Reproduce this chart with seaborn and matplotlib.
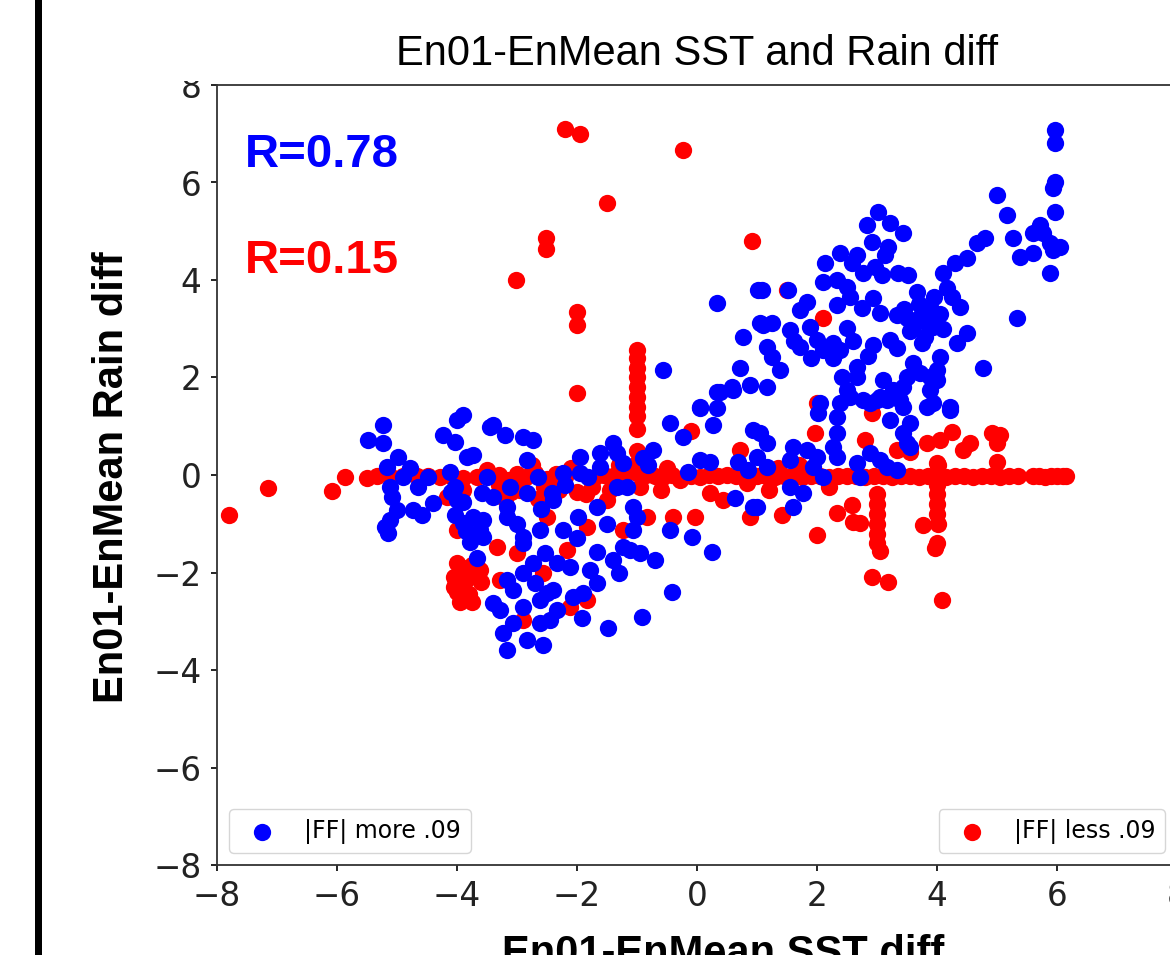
import matplotlib
matplotlib.use("Agg")
import matplotlib.pyplot as plt
import seaborn as sns
import pandas as pd
from matplotlib.patches import Rectangle

# ---------------- data ----------------
title = "En01-EnMean SST and Rain diff"
xlabel = "En01-EnMean SST diff"
ylabel = "En01-EnMean Rain diff"
label_more = "|FF| more .09"
label_less = "|FF| less .09"
r_more = "R=0.78"
r_less = "R=0.15"
ticks = [-8, -6, -4, -2, 0, 2, 4, 6, 8]

blue_x = [
    -5.48, -5.23, -5.23, -4.98, -5.17, -4.78, -4.48, -5.12, -4.65, -5.08, -4.4, -5.0, -4.73, -4.58,
    -5.12, -5.2, -5.15, -4.9, -4.23, -4.03, -4.0, -3.9, -3.83, -3.73, -4.12, -4.03, -4.0, -4.03,
    -3.9, -3.73, -3.78, -3.67, -3.62, -3.45, -3.58, -3.9, -3.85, -4.1,
    -3.4, -3.2, -2.9, -2.73, -2.83, -3.5, -3.12, -3.4, -3.17, -3.17, -3.57, -3.57, -2.83, -2.65,
    -2.42, -2.4, -2.23, -1.95, -1.95, -1.82, -1.62, -1.62, -1.4, -1.33, -1.23, -1.33, -1.17, -1.07,
    -1.0, -1.07, -1.67, -1.98, -2.23, -2.0, -2.62, -2.9, -2.9, -1.67, -1.4, -1.23, -1.12, -0.95,
    -0.7, -2.73, -2.53, -2.33, -2.12, -1.78, -3.17, -3.07, -2.7, -2.5, -2.4, -1.67, -1.9, -2.07,
    -2.62, -3.4, -3.28, -2.9, -2.33, -2.45, -2.62, -3.07, -3.23, -3.17, -2.83, -2.57, -1.92, -1.48,
    -0.92, -0.42, -0.45, -0.08, 0.25, -0.45, -0.23, 0.05, 0.33, 0.27, 0.05, 0.22, -0.15, -0.82,
    -0.9, -0.73, 0.63, 0.68, 0.85, 0.93, 0.93, 0.38, 0.6, -2.6, -2.2, -3.0, -1.5, -1.3, -2.9,
    0.33, -0.57, 0.77, 0.72, 1.02, 1.05, 0.33, 0.58, 0.88, 0.05,
    5.97, 5.97, 5.97, 5.93, 5.97, 5.0, 5.17, 5.27, 5.88, 5.33, 5.72, 5.6, 5.77, 5.88, 6.05, 5.38,
    5.6, 5.93, 4.8, 4.67, 4.5, 4.3, 4.1, 4.17, 4.25, 4.38, 4.5, 4.33, 4.77, 4.05, 4.0, 4.22, 3.88,
    3.02, 2.83, 3.22, 3.43, 2.92, 3.18, 3.13, 2.67, 2.38, 2.13, 2.58, 2.97, 2.77, 3.08, 3.35, 3.52,
    2.1, 2.33, 2.5, 3.67, 2.93, 2.55, 2.33, 2.75, 3.05, 3.33, 3.5, 3.72, 3.88, 3.93, 3.6, 3.8, 2.5,
    2.93, 3.22, 3.33, 3.6, 3.72, 4.0, 3.5, 3.43, 3.88, 3.93, 2.67, 2.38, 2.27, 2.42, 2.67, 2.5, 3.1,
    3.27, 3.05, 2.88, 3.38,
    3.7, 3.8, 3.65, 3.55, 3.75, 3.45, 4.05, 3.95, 4.1, 3.85, 2.85, 2.6, 1.62, 1.9,
    1.83, 1.72, 1.55, 1.88, 2.0, 1.72, 2.1, 2.27, 1.25, 1.1, 1.17, 1.25, 1.38, 1.08, 1.52, 1.17, 2.05,
    2.02, 2.38, 2.55, 2.77, 3.0, 3.17, 3.43, 3.83, 4.22, 3.22, 3.55, 3.43, 3.5, 3.55, 2.33, 2.33,
    2.27, 2.33, 1.05, 1.17, 1.0, 1.17, 1.6, 1.83, 2.0, 1.55, 1.93, 2.1, 1.55, 1.77, 1.6, 1.0, 2.67,
    2.72, 2.88, 3.05, 3.17, 3.33,
]
blue_y = [
    0.72, 1.03, 0.66, 0.37, 0.16, 0.14, -0.04, -0.25, -0.25, -0.45, -0.57, -0.72, -0.72, -0.82,
    -0.92, -1.07, -1.19, -0.05, 0.82, 0.68, 1.13, 1.23, 0.37, 0.41, 0.06, -0.25, -0.51, -0.82,
    -0.98, -0.86, -1.37, -1.7, -1.13, 0.98, -0.37, -0.55, -1.15, -0.35,
    1.03, 0.82, 0.78, 0.72, 0.31, -0.04, -0.25, -0.45, -0.66, -0.86, -0.92, -1.27, -0.37, -0.04,
    -0.37, -0.51, 0.04, 0.37, 0.04, -0.04, 0.45, 0.16, 0.66, 0.45, 0.25, -0.25, -0.25, -0.66,
    -0.86, -1.13, -0.66, -0.86, -1.13, -1.29, -1.13, -1.27, -1.4, -1.58, -1.74, -1.48, -1.54, -1.6,
    -1.74, -1.8, -1.6, -1.8, -1.88, -1.95, -2.15, -2.36, -2.22, -2.42, -2.36, -2.22, -2.42, -2.5,
    -2.56, -2.63, -2.77, -2.7, -2.77, -2.97, -3.04, -3.04, -3.24, -3.59, -3.38, -3.49, -2.93, -3.14,
    -2.91, -2.4, -1.13, -1.27, -1.58, 1.07, 0.78, 1.37, 1.37, 1.03, 0.31, 0.27, 0.06, 0.2,
    0.35, 0.51, -0.47, 0.27, 0.1, -0.66, 0.92, 1.7, 1.74, -0.7, -0.2, -1.0, -1.0, -2.0, -2.0,
    3.52, 2.15, 2.83, 2.19, 3.8, 3.12, 1.7, 1.8, 1.85, 1.4,
    7.07, 6.8, 6.0, 5.88, 5.4, 5.74, 5.33, 4.86, 4.14, 3.22, 5.13, 4.96, 4.96, 4.76, 4.68, 4.47,
    4.55, 4.62, 4.86, 4.76, 4.45, 4.35, 4.14, 3.84, 3.65, 3.45, 2.91, 2.71, 2.19, 2.42, 1.95, 1.4, 2.01,
    5.4, 5.13, 5.17, 4.96, 4.78, 4.68, 4.51, 4.51, 4.55, 4.35, 4.35, 4.27, 4.14, 4.1, 4.14, 4.1,
    3.96, 4.0, 3.86, 3.76, 3.63, 3.65, 3.49, 3.42, 3.32, 3.28, 3.22, 3.24, 3.45, 3.04, 3.04, 2.83, 3.02,
    2.67, 2.77, 2.6, 2.3, 2.09, 2.15, 2.01, 1.8, 1.74, 1.48, 2.22, 2.56, 2.4, 2.01, 2.01, 1.74, 1.95,
    1.74, 1.6, 1.48, 1.54,
    3.5, 3.3, 3.15, 2.95, 2.7, 3.4, 3.3, 3.65, 3.0, 3.1, 2.45, 2.75, 2.75, 2.4,
    3.55, 3.38, 2.97, 3.04, 2.77, 2.63, 2.56, 2.71, 3.12, 3.08, 2.63, 2.42, 2.15, 3.8, 3.8, 1.8, 1.48,
    1.27, 1.48, 1.6, 1.54, 1.54, 1.54, 1.4, 1.4, 1.33, 1.13, 1.07, 0.86, 0.66, 0.57, 1.19, 0.86,
    0.57, 0.37, 0.86, 0.66, 0.37, 0.16, 0.57, 0.51, 0.37, 0.31, 0.16, -0.04, -0.25, -0.37, -0.66, -0.66, 0.25,
    -0.04, 0.45, 0.31, 0.16, 0.1,
]

red_x = [
    -7.8, -7.15, -6.08, -5.87, -5.5, -5.33, -5.12, -4.9, -4.67, -4.48, -4.28, -4.1, -3.9, -3.67, -3.5,
    -4.0, -4.0, -3.9, -3.75, -4.05, -3.85, -3.7, -4.0, -3.8, -3.95, -3.75, -4.05, -3.6, -4.17, -3.9,
    -3.62, -3.33, -3.0, -3.28, -2.57, -2.12, -1.83, -2.9,
    -3.3, -3.15, -3.0, -2.85, -2.7, -2.5, -2.35, -2.2, -2.0, -1.85, -1.7, -1.55, -1.4, -1.2, -0.85,
    -0.7, -0.57, -0.42, -0.28, -0.1, 0.05, 0.2, 0.35, 0.5, 0.65, 0.8,
    -3.1, -2.95, -2.55, -2.3, -1.75, -1.45, -0.95, -0.6, -1.3, -2.1, -2.75, -3.3, -0.5,
    -2.5, -2.17, -1.83, -1.5, -1.23, -0.83, -0.4, -0.03, 0.22, 0.43, 0.72, 0.83, 0.88, -2.65, -3.2, -0.1,
    -1.0, -1.0, -1.0, -1.0, -1.0, -1.0, -1.0, -1.0, -1.0, -1.0, -1.0, -1.0,
    -2.2, -1.95, -0.23, -1.5, -2.52, -2.52, -3.02, -2.0, -2.0, -2.0, 0.92, 2.1, 1.5, 2.0,
    1.0, 1.15, 1.3, 1.45, 1.6, 1.75, 1.9, 2.05, 2.2, 2.35, 2.5, 2.65, 2.8, 2.95, 3.1, 3.25, 3.4,
    3.55, 3.7, 3.85, 4.0, 4.15, 4.3, 4.45, 4.6, 4.75, 4.9, 5.05, 5.2, 5.35, 5.6, 5.7, 5.8, 5.9,
    6.0, 6.1, 6.15,
    3.0, 3.0, 3.0, 3.0, 3.0, 3.0, 3.05, 2.92, 3.18, 4.0, 4.0, 4.0, 4.0, 4.0, 4.02, 4.0, 3.97, 4.08,
    3.77, 2.58, 2.33, 2.6, 2.72, 2.0, 1.42,
    2.92, 1.97, 2.8, 3.33, 3.55, 3.83, 4.05, 4.25, 4.43, 4.55, 4.92, 5.05, 5.0, 5.0, 4.02,
    1.2, 1.7, 2.2, 1.35,
]
red_y = [
    -0.82, -0.27, -0.33, -0.04, -0.06, -0.02, -0.03, -0.02, -0.03, -0.02, -0.04, -0.02, -0.06, -0.04, 0.1,
    -1.13, -1.8, -1.9, -1.85, -2.1, -2.15, -2.05, -2.4, -2.45, -2.6, -2.6, -2.3, -2.2, -0.45, -0.3,
    -1.95, -1.48, -1.6, -2.15, -2.0, -2.7, -2.56, -2.97,
    0.0, -0.1, 0.02, -0.05, 0.05, -0.08, 0.03, -0.05, -0.35, -0.4, -0.05, 0.0, -0.02, 0.02, 0.0,
    -0.03, -0.04, 0.0, -0.1, -0.02, -0.05, 0.0, -0.03, 0.0, -0.02, -0.03,
    -0.35, -0.3, -0.25, -0.3, -0.25, -0.3, -0.25, -0.3, 0.2, 0.15, 0.2, -0.2, 0.15,
    -0.86, -1.54, -1.07, -0.51, -1.13, -0.86, -0.86, -0.86, -0.37, -0.51, 0.51, -0.16, -0.86, -0.5, -0.5, 0.9,
    2.56, 2.4, 2.2, 2.0, 1.8, 1.6, 1.4, 1.2, 0.95, 0.5, 0.25, 0.05,
    7.1, 7.0, 6.67, 5.58, 4.86, 4.63, 4.0, 3.34, 3.08, 1.68, 4.8, 3.22, 3.8, 1.48,
    -0.03, -0.02, -0.04, -0.03, -0.02, -0.04, -0.03, -0.02, -0.04, -0.03, -0.02, -0.03, -0.04, -0.02,
    -0.03, -0.04, -0.02, -0.03, -0.04, -0.02, -0.03, -0.04, -0.02, -0.03, -0.04, -0.02, -0.03, -0.04,
    -0.02, -0.03, -0.03, -0.02, -0.04, -0.03, -0.02, -0.03, -0.03,
    -0.4, -0.6, -0.8, -1.0, -1.2, -1.4, -1.55, -2.1, -2.2, 0.25, -0.2, -0.4, -0.6, -0.8, -1.0, -1.4,
    -1.5, -2.56, -1.03, -0.62, -0.78, -0.96, -0.98, -1.23, -0.82,
    1.27, 0.86, 0.72, 0.51, 0.47, 0.66, 0.72, 0.89, 0.51, 0.66, 0.86, 0.82, 0.66, 0.27, 0.2,
    -0.3, 0.2, -0.25, 0.15,
]

blue_df = pd.DataFrame({"x": blue_x, "y": blue_y})
red_df = pd.DataFrame({"x": red_x, "y": red_y})

# ---------------- figure ----------------
W, H = 1170, 955
fig = plt.figure(figsize=(W / 100, H / 100), dpi=100)
fig.patch.set_facecolor("white")
ax = fig.add_axes([217 / W, 90 / H, 960 / W, 780 / H])

sns.scatterplot(data=red_df, x="x", y="y", ax=ax, color="#ff0000", s=155,
                linewidth=0, label=label_less, zorder=2)
sns.scatterplot(data=blue_df, x="x", y="y", ax=ax, color="#0000ff", s=155,
                linewidth=0, label=label_more, zorder=3)

ax.set_xlim(-8, 8)
ax.set_ylim(-8, 8)
ax.set_xticks(ticks)
ax.set_yticks(ticks)
ax.tick_params(labelsize=23.5, length=4, width=1.2, pad=7, labelcolor="#222222")
for sp in ax.spines.values():
    sp.set_linewidth(1.3)
    sp.set_color("#333333")
ax.set_xlabel("")
ax.set_ylabel("")

ax.set_title(title, fontsize=30, family="Liberation Sans", pad=14.4)

handles, labels = ax.get_legend_handles_labels()
hmap = dict(zip(labels, handles))
leg1 = ax.legend([hmap[label_more]], [label_more], loc="lower left", fontsize=17,
                 scatterpoints=1)
ax.add_artist(leg1)
ax.legend([hmap[label_less]], [label_less], loc="lower right", fontsize=17,
          scatterpoints=1)

ax.text(0.029, 0.895, r_more, transform=ax.transAxes, color="#0000ff", fontsize=34,
        fontweight="bold", family="Liberation Sans", va="baseline", ha="left")
ax.text(0.029, 0.759, r_less, transform=ax.transAxes, color="#ff0000", fontsize=34,
        fontweight="bold", family="Liberation Sans", va="baseline", ha="left")

# axis labels (placed as in the reference, the x label is cropped at the bottom edge)
fig.text(112 / W, 0.5, ylabel, rotation=90, fontsize=30, fontweight="bold",
         family="Liberation Sans", ha="center", va="center")
fig.text(723 / W, -10 / H, xlabel, fontsize=30, fontweight="bold",
         family="Liberation Sans", ha="center", va="baseline")

# page decorations: left black bar and white cover at top-left
fig.patches.append(Rectangle((35 / W, 0), 7 / W, 1, transform=fig.transFigure,
                             facecolor="black", edgecolor="none", zorder=10))
fig.patches.append(Rectangle((150 / W, (H - 81) / H), 66 / W, 81 / H, transform=fig.transFigure,
                             facecolor="white", edgecolor="none", zorder=10))

fig.savefig("out.png", dpi=100)
